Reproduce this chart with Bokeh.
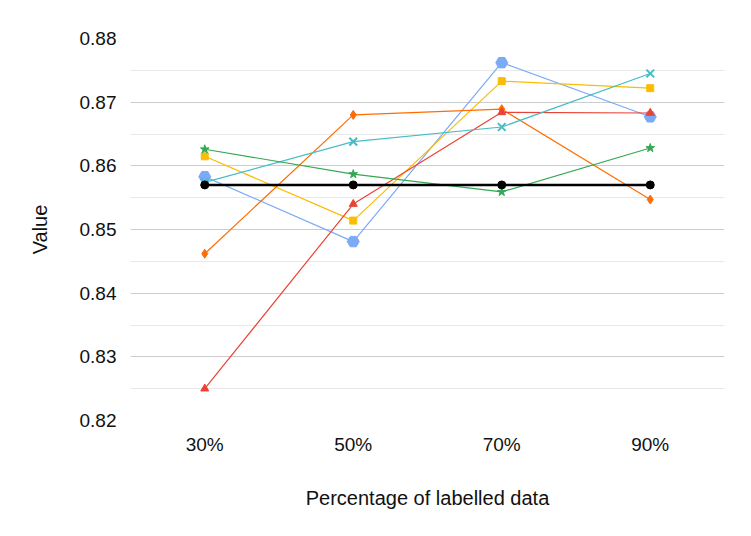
from bokeh.plotting import figure
from bokeh.models import FactorRange, Range1d, FixedTicker
from bokeh.embed import file_html
from bokeh.resources import INLINE

categories = ["30%", "50%", "70%", "90%"]
baseline = [0.8570, 0.8570, 0.8570, 0.8570]
blue_vals = [0.8583, 0.8481, 0.8762, 0.8677]
yellow_vals = [0.8615, 0.8514, 0.8733, 0.8722]
orange_vals = [0.8462, 0.8680, 0.8689, 0.8547]
red_vals = [0.8250, 0.8540, 0.8684, 0.8683]
teal_vals = [0.8574, 0.8638, 0.8661, 0.8745]
green_vals = [0.8626, 0.8587, 0.8559, 0.8628]
y_ticks = [0.82, 0.83, 0.84, 0.85, 0.86, 0.87, 0.88]
y_minor = [0.825, 0.835, 0.845, 0.855, 0.865, 0.875]

FONT = "Liberation Sans"

p = figure(width=735, height=520, x_range=FactorRange(factors=categories),
           y_range=Range1d(0.82, 0.88), output_backend="svg", toolbar_location=None,
           min_border_left=130, min_border_right=11, min_border_top=38, min_border_bottom=100)
p.outline_line_color = None
p.background_fill_color = "white"
p.border_fill_color = "white"

p.yaxis.ticker = FixedTicker(ticks=y_ticks, minor_ticks=y_minor)
p.xgrid.grid_line_color = None
p.ygrid.grid_line_color = "#cccccc"
p.ygrid.minor_grid_line_color = "#e8e8e8"

for ax in (p.xaxis[0], p.yaxis[0]):
    ax.axis_line_color = None
    ax.major_tick_line_color = None
    ax.minor_tick_line_color = None
    ax.major_label_text_font = FONT
    ax.major_label_text_font_size = "19px"
    ax.major_label_text_color = "#111111"
    ax.axis_label_text_font = FONT
    ax.axis_label_text_font_size = "20px"
    ax.axis_label_text_font_style = "normal"
    ax.axis_label_text_color = "#111111"

p.xaxis.axis_label = "Percentage of labelled data"
p.yaxis.axis_label = "Value"
p.xaxis.major_label_standoff = 7
p.xaxis.axis_label_standoff = 29
p.yaxis.major_label_standoff = 8
p.yaxis.axis_label_standoff = 26

series = [
    (blue_vals, "#7baaf7", "hex", 12, 1),
    (yellow_vals, "#fbbc04", "square", 7, 1),
    (orange_vals, "#ff6d01", "diamond", 9, 1),
    (red_vals, "#ea4335", "triangle", 8, 1),
    (teal_vals, "#46bdc6", "x", 11, 2),
    (green_vals, "#34a853", "star", 9, 1),
]
for vals, col, mk, sz, lw in series:
    p.line(categories, vals, line_color=col, line_width=1.2)
    p.scatter(categories, vals, marker=mk, size=sz, fill_color=col,
              line_color=col, line_width=lw)

p.line(categories, baseline, line_color="black", line_width=2.5)
p.scatter(categories, baseline, marker="circle", size=8, fill_color="black", line_color="black")

open("out.html", "w").write(file_html(p, INLINE))
